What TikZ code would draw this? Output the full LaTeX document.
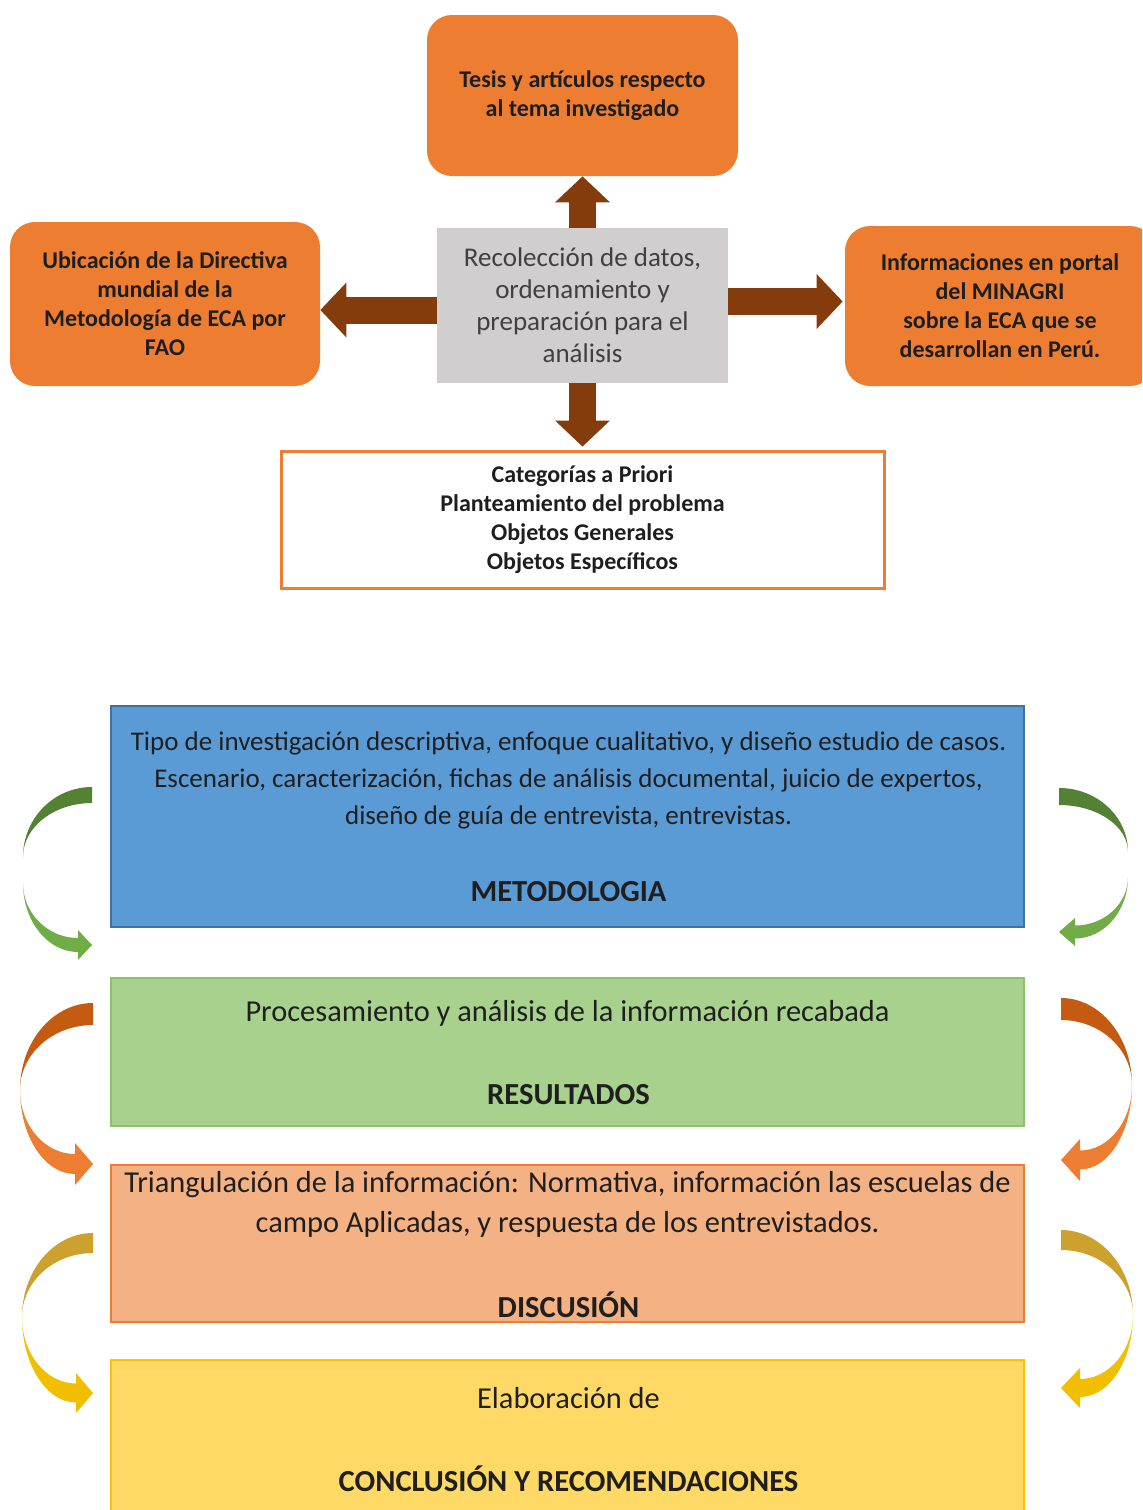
\documentclass[tikz,border=0pt]{standalone}
\usepackage{fontspec}
\setmainfont{Carlito}
\usetikzlibrary{arrows.meta}
\definecolor{orangeC}{HTML}{ED7D31}
\definecolor{brownC}{HTML}{843C0C}
\definecolor{greyC}{HTML}{D0CECE}
\definecolor{greytext}{HTML}{404040}
\definecolor{darktext}{HTML}{1E1E1E}
\definecolor{blueC}{HTML}{5B9BD5}
\definecolor{blueB}{HTML}{41719C}
\definecolor{greenC}{HTML}{A9D18E}
\definecolor{greenB}{HTML}{8CC168}
\definecolor{peachC}{HTML}{F4B183}
\definecolor{yellowC}{HTML}{FFD966}
\definecolor{yellowB}{HTML}{FFC000}
\definecolor{gTop}{HTML}{548235}
\definecolor{gBot}{HTML}{70AD47}
\definecolor{oTop}{HTML}{C55A11}
\definecolor{oBot}{HTML}{ED7D31}
\definecolor{yTop}{HTML}{CCA12E}
\definecolor{yBot}{HTML}{F2BE00}
\newcommand\pxu{0.5pt}
\newcommand\ribbonarrow[9]{%
 \pgfmathsetmacro\RibA{#1-0.552*(#1-#4)}%
 \pgfmathsetmacro\RibB{#5-0.552*(#5-#2)}%
 \pgfmathsetmacro\RibC{#5-0.552*(#5-#2-#3)}%
 \pgfmathsetmacro\RibD{#2+#3}%
 \fill[ctop] (#1,#2) .. controls (\RibA,#2) and (#4,\RibB) .. (#4,#5)
   .. controls (#4,\RibC) and (\RibA,\RibD) .. (#1,\RibD) -- cycle;
 \pgfmathsetmacro\RibE{#7+#8/2}%
 \pgfmathsetmacro\RibF{#7-#8/2}%
 \pgfmathsetmacro\RibG{#9-0.552*(#9-#4)}%
 \pgfmathsetmacro\RibH{#6+0.552*(\RibE-#6)}%
 \pgfmathsetmacro\RibI{#6+0.552*(\RibF-#6)}%
 \pgfmathsetmacro\RibJ{#7+\RibHH}%
 \pgfmathsetmacro\RibK{#7-\RibHH}%
 \fill[cbot] (#4,#6) .. controls (#4,\RibH) and (\RibG,\RibE) .. (#9,\RibE)
   -- (#9,\RibJ) -- (#1,#7) -- (#9,\RibK) -- (#9,\RibF)
   .. controls (\RibG,\RibF) and (#4,\RibI) .. (#4,#6) -- cycle;
}
\tikzset{
  orangebox/.style={rounded corners=12.5pt, fill=orangeC, draw=none, text=darktext,
    align=center, font=\fontsize{12pt}{14.5pt}\selectfont\bfseries, inner sep=0pt},
  greybox/.style={fill=greyC, draw=none, text=greytext, align=center,
    font=\fontsize{13.5pt}{16pt}\selectfont, inner sep=0pt},
  catbox/.style={fill=white, draw=orangeC, line width=1.5pt, text=darktext, align=center,
    font=\fontsize{12pt}{14.5pt}\selectfont\bfseries, inner sep=0pt},
  blockarrow/.style={draw=brownC, line width=13.5pt,
    -{Triangle[length=13pt, width=27.5pt, line width=0pt]}},
  stagebox/.style={draw, line width=1pt, inner sep=0pt, minimum width=913*\pxu},
  smalltext/.style={text=black!88, align=center, inner sep=0pt,
    font=\fontsize{13.5pt}{18.5pt}\selectfont},
  bigtext/.style={text=black!88, align=center, inner sep=0pt,
    font=\fontsize{15.2pt}{20pt}\selectfont},
  titletext/.style={text=black!88, align=center, inner sep=0pt,
    font=\fontsize{15.3pt}{20pt}\selectfont\bfseries},
}
\begin{document}
\begin{tikzpicture}[x=0.5pt, y=-0.5pt]
\clip (0,0) rectangle (1142,1510);
\fill[white] (0,0) rectangle (1142,1510);
% top section
\node[orangebox, minimum width=311*\pxu, minimum height=161*\pxu] (tesis) at (582.5,95.5)
  {Tesis y artículos respecto\\al tema investigado};
\node[greybox, minimum width=291*\pxu, minimum height=155*\pxu] (grey) at (582.5,305.5)
  {Recolección de datos,\\ordenamiento y\\preparación para el\\análisis};
\node[orangebox, minimum width=310*\pxu, minimum height=164*\pxu] (ubic) at (165,304)
  {Ubicación de la Directiva\\mundial de la\\Metodología de ECA por\\FAO};
\node[orangebox, minimum width=310*\pxu, minimum height=160*\pxu] (info) at (1000,306)
  {Informaciones en portal\\del MINAGRI\\sobre la ECA que se\\desarrollan en Perú.};
\node[catbox, minimum width=603*\pxu, minimum height=137*\pxu] (cat) at (582.5,519.5)
  {Categorías a Priori\\Planteamiento del problema\\Objetos Generales\\Objetos Específicos};
\draw[blockarrow] (grey.north) -- (tesis.south);
\draw[blockarrow] (grey.south) -- ([yshift=1.5pt]cat.north);
\coordinate (la) at ([yshift=-2.25pt]grey.west);
\coordinate (ra) at ([yshift=2pt]grey.east);
\draw[blockarrow] (la) -- (la -| ubic.east);
\draw[blockarrow] (ra) -- ([xshift=-1pt]ra -| info.west);
% lower section
\node[stagebox, fill=blueC, draw=blueB, minimum height=221*\pxu] (meto) at (567.5,816.5) {};
\node[stagebox, fill=greenC, draw=greenB, minimum height=148*\pxu] (resu) at (567.5,1052) {};
\node[stagebox, fill=peachC, draw=orangeC, minimum height=157*\pxu] (disc) at (567.5,1243.5) {};
\node[stagebox, fill=yellowC, draw=yellowB, minimum height=170*\pxu] (conc) at (567.5,1445) {};
\node[smalltext] (metot) at (568.5,780)
  {Tipo de investigación descriptiva, enfoque cualitativo, y diseño estudio de casos.\\
   Escenario, caracterización, fichas de análisis documental, juicio de expertos,\\
   diseño de guía de entrevista, entrevistas.};
\node[titletext] (metoh) at (568.5,892) {METODOLOGIA};
\node[bigtext] (resut) at (567.5,1013) {Procesamiento y análisis de la información recabada};
\node[titletext] (resuh) at (568.5,1095) {RESULTADOS};
\node[bigtext] (disct) at (567.5,1204)
  {Triangulación de la información: Normativa, información las escuelas de\\
   campo Aplicadas, y respuesta de los entrevistados.};
\node[titletext] (disch) at (568.5,1305) {DISCUSIÓN};
\node[bigtext] (conct) at (568.5,1398) {Elaboración de};
\node[titletext] (conch) at (568.5,1479) {CONCLUSIÓN Y RECOMENDACIONES};
% curved arrows, left side
\colorlet{ctop}{gTop}\colorlet{cbot}{gBot}\def\RibHH{15}
\ribbonarrow{92}{787}{16}{23}{857}{883}{945}{14}{78}
\colorlet{ctop}{oTop}\colorlet{cbot}{oBot}\def\RibHH{21}
\ribbonarrow{93}{1003}{22}{20}{1090}{1090}{1164}{20}{75}
\colorlet{ctop}{yTop}\colorlet{cbot}{yBot}\def\RibHH{20}
\ribbonarrow{93}{1233}{20}{22}{1317}{1317}{1393}{19}{76}
% curved arrows, right side
\colorlet{ctop}{gTop}\colorlet{cbot}{gBot}\def\RibHH{14}
\ribbonarrow{1059}{788}{17}{1128}{852}{877}{932}{13}{1075}
\colorlet{ctop}{oTop}\colorlet{cbot}{oBot}\def\RibHH{21}
\ribbonarrow{1061}{998}{22}{1132}{1085}{1085}{1160}{19}{1080}
\colorlet{ctop}{yTop}\colorlet{cbot}{yBot}\def\RibHH{20}
\ribbonarrow{1061}{1230}{20}{1133}{1315}{1315}{1388}{18}{1080}
\end{tikzpicture}
\end{document}
